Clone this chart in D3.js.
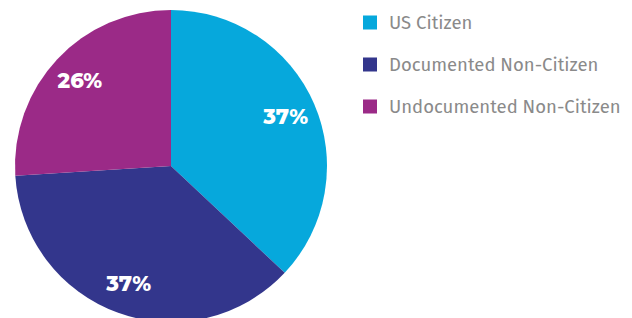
<!DOCTYPE html>
<html>
<head>
<meta charset="utf-8">
<script src="https://cdn.jsdelivr.net/npm/d3@7"></script>
<style>
html,body{margin:0;padding:0;background:#fff;}
svg{display:block;}
</style>
</head>
<body>
<svg id="chart" width="632" height="318"></svg>
<script>
const categories = ["US Citizen", "Documented Non-Citizen", "Undocumented Non-Citizen"];
const values = [37, 37, 26];
const labels = ["37%", "37%", "26%"];
const colors = ["#06A8DC", "#33368C", "#9B2A87"];

const svg = d3.select("#chart");
const cx = 171, cy = 166, R = 156;

const pie = d3.pie().sort(null).value(d => d.v);
const data = pie(categories.map((c, i) => ({c, v: values[i], l: labels[i]})));
const arc = d3.arc().innerRadius(0).outerRadius(R);
const labelArc = d3.arc().innerRadius(125).outerRadius(125);
const color = d3.scaleOrdinal().domain(categories).range(colors);

const g = svg.append("g").attr("transform", `translate(${cx},${cy})`);
g.selectAll("path").data(data).join("path")
  .attr("d", arc)
  .attr("fill", d => color(d.data.c));

g.selectAll("text").data(data).join("text")
  .attr("transform", d => `translate(${labelArc.centroid(d)})`)
  .attr("text-anchor", "middle")
  .attr("dy", "0.36em")
  .attr("fill", "#fff")
  .attr("font-family", "Montserrat, 'Open Sans', sans-serif")
  .attr("font-weight", 800)
  .attr("font-size", 21)
  .text(d => d.data.l);

const y = d3.scalePoint().domain(categories).range([22.5, 106.5]);
const lg = svg.append("g");
const rows = lg.selectAll("g").data(categories).join("g")
  .attr("transform", d => `translate(363,${y(d)})`);
rows.append("rect").attr("x", 0).attr("y", -7).attr("width", 14).attr("height", 14)
  .attr("fill", d => color(d));
rows.append("text").attr("x", 26).attr("y", 0).attr("dy", "0.36em")
  .attr("fill", "#8a8a8a")
  .attr("font-family", "'Fira Sans', 'Open Sans', sans-serif")
  .attr("font-size", 18.5)
  .text(d => d);
</script>
</body>
</html>
